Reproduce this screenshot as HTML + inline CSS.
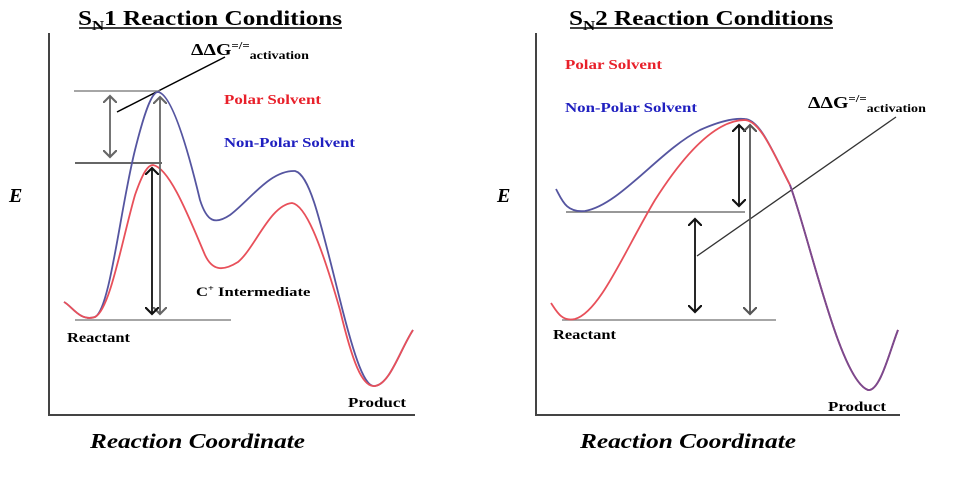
<!DOCTYPE html>
<html><head><meta charset="utf-8"><style>
body{margin:0;background:#fff}
svg{display:block}
text{font-family:"Liberation Serif",serif;font-weight:bold}
</style></head><body>
<svg width="960" height="477" viewBox="0 0 960 477" xmlns="http://www.w3.org/2000/svg">
<defs>
<marker id="ah" viewBox="0 0 10 10" refX="5" refY="5" markerWidth="8" markerHeight="8" orient="auto-start-reverse"><path d="M0,0 L5,5 L0,10" fill="none" stroke="context-stroke" stroke-width="1.5"/></marker>
</defs>
<!-- LEFT -->
<g transform="translate(78,25) scale(1.2,1)"><text x="0" y="0" font-size="21">S<tspan font-size="14" dy="5">N</tspan><tspan dy="-5">1 Reaction Conditions</tspan></text></g>
<line x1="79" y1="28" x2="342" y2="28" stroke="#000" stroke-width="1.5"/>
<line x1="49" y1="33" x2="49" y2="416" stroke="#444" stroke-width="2"/>
<line x1="49" y1="415" x2="415" y2="415" stroke="#444" stroke-width="2"/>
<text x="9" y="202" font-size="20" font-style="italic">E</text>
<text x="90" y="448" font-size="21" font-style="italic" textLength="215" lengthAdjust="spacingAndGlyphs">Reaction Coordinate</text>
<g transform="translate(191,55) scale(1.17,1)"><text x="0" y="0" font-size="17">ΔΔG<tspan font-size="11" dy="-6">=/=</tspan><tspan font-size="12" dy="10">activation</tspan></text></g>
<line x1="117" y1="112" x2="225" y2="57" stroke="#000" stroke-width="1.5"/>
<line x1="74" y1="91" x2="160" y2="91" stroke="#888" stroke-width="1.5"/>
<line x1="75" y1="163" x2="162" y2="163" stroke="#333" stroke-width="1.5"/>
<line x1="75" y1="320" x2="231" y2="320" stroke="#888" stroke-width="1.5"/>
<path d="M64,302 C72,306 80,322 95,317 C110,310 120,210 135,150 C145,110 152,92 158,92 C172,94 188,150 200,200 C207,222 215,225 230,215 C250,200 270,170 295,171 C310,175 320,220 340,300 C355,360 365,388 375,386 C390,384 400,350 413,330" fill="none" stroke="#5555a0" stroke-width="1.8"/>
<path d="M64,302 C72,306 80,322 95,317 C110,310 122,240 135,195 C143,172 148,165 153,165 C170,168 190,220 205,255 C212,270 222,272 238,262 C255,248 270,205 292,203 C305,205 320,240 340,310 C352,360 362,388 375,386 C390,384 400,350 413,330" fill="none" stroke="#e8505a" stroke-width="1.8"/>
<line x1="110" y1="96" x2="110" y2="157" stroke="#666" stroke-width="1.8" marker-start="url(#ah)" marker-end="url(#ah)"/>
<line x1="160" y1="97" x2="160" y2="314" stroke="#666" stroke-width="1.8" marker-start="url(#ah)" marker-end="url(#ah)"/>
<line x1="152" y1="168" x2="152" y2="314" stroke="#111" stroke-width="1.8" marker-start="url(#ah)" marker-end="url(#ah)"/>
<text x="224" y="104" font-size="14" fill="#e8202a" textLength="97" lengthAdjust="spacingAndGlyphs">Polar Solvent</text>
<text x="224" y="147" font-size="14" fill="#2020c0" textLength="131" lengthAdjust="spacingAndGlyphs">Non-Polar Solvent</text>
<g transform="translate(196,296) scale(1.28,1)"><text x="0" y="0" font-size="13">C<tspan font-size="8" dy="-5">+</tspan><tspan dy="5"> Intermediate</tspan></text></g>
<text x="67" y="342" font-size="14" textLength="63" lengthAdjust="spacingAndGlyphs">Reactant</text>
<text x="348" y="407" font-size="14" textLength="58" lengthAdjust="spacingAndGlyphs">Product</text>
<!-- RIGHT -->
<g transform="translate(569,25) scale(1.2,1)"><text x="0" y="0" font-size="21">S<tspan font-size="14" dy="5">N</tspan><tspan dy="-5">2 Reaction Conditions</tspan></text></g>
<line x1="570" y1="28" x2="833" y2="28" stroke="#000" stroke-width="1.5"/>
<line x1="536" y1="33" x2="536" y2="416" stroke="#444" stroke-width="2"/>
<line x1="536" y1="415" x2="900" y2="415" stroke="#444" stroke-width="2"/>
<text x="497" y="202" font-size="20" font-style="italic">E</text>
<text x="580" y="448" font-size="21" font-style="italic" textLength="216" lengthAdjust="spacingAndGlyphs">Reaction Coordinate</text>
<text x="565" y="69" font-size="14" fill="#e8202a" textLength="97" lengthAdjust="spacingAndGlyphs">Polar Solvent</text>
<text x="565" y="112" font-size="14" fill="#2020c0" textLength="132" lengthAdjust="spacingAndGlyphs">Non-Polar Solvent</text>
<g transform="translate(808,108) scale(1.17,1)"><text x="0" y="0" font-size="17">ΔΔG<tspan font-size="11" dy="-6">=/=</tspan><tspan font-size="12" dy="10">activation</tspan></text></g>
<line x1="697" y1="256" x2="896" y2="117" stroke="#333" stroke-width="1.3"/>
<line x1="566" y1="212" x2="745" y2="212" stroke="#777" stroke-width="1.5"/>
<line x1="562" y1="320" x2="776" y2="320" stroke="#888" stroke-width="1.5"/>
<path d="M556,189 C562,200 566,213 585,211 C620,205 660,150 700,130 C720,121 735,118 745,119 C760,120 772,150 790,185 C810,240 840,380 868,390 C880,392 890,350 898,330" fill="none" stroke="#5555a0" stroke-width="1.8"/>
<path d="M551,303 C557,312 562,322 575,319 C600,312 625,250 655,200 C690,145 720,120 745,120 C760,121 772,150 790,185 C810,240 840,380 868,390 C880,392 890,350 898,330" fill="none" stroke="#e8505a" stroke-width="1.8"/>
<path d="M790,185 C810,240 840,380 868,390 C880,392 890,350 898,330" fill="none" stroke="#7a4a90" stroke-width="1.8"/>
<line x1="739" y1="125" x2="739" y2="206" stroke="#111" stroke-width="1.8" marker-start="url(#ah)" marker-end="url(#ah)"/>
<line x1="750" y1="125" x2="750" y2="314" stroke="#555" stroke-width="1.8" marker-start="url(#ah)" marker-end="url(#ah)"/>
<line x1="695" y1="219" x2="695" y2="312" stroke="#111" stroke-width="1.8" marker-start="url(#ah)" marker-end="url(#ah)"/>
<text x="553" y="339" font-size="14" textLength="63" lengthAdjust="spacingAndGlyphs">Reactant</text>
<text x="828" y="411" font-size="14" textLength="58" lengthAdjust="spacingAndGlyphs">Product</text>
</svg>
</body></html>
